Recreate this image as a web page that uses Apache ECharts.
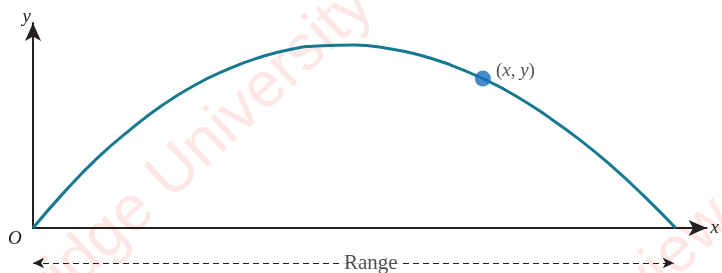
<!DOCTYPE html>
<html>
<head>
<meta charset="utf-8">
<script src="https://cdn.jsdelivr.net/npm/echarts@6/dist/echarts.min.js"></script>
<style>
  html, body { margin: 0; padding: 0; background: #fff; }
  #chart { width: 722px; height: 273px; }
</style>
</head>
<body>
<div id="chart"></div>
<script>
// trajectory (x = horizontal distance, y = height)
const pathX = [0, 0.5, 1, 1.5, 2, 2.5, 3, 3.5, 4, 4.5, 5, 5.5, 6, 6.5, 7, 7.5, 8, 8.5, 9, 9.5, 10]
const pathY = [0, 0.57, 1.08, 1.51, 1.89, 2.20, 2.44, 2.63, 2.76, 2.82, 2.83, 2.78, 2.68, 2.52, 2.31, 2.05, 1.73, 1.37, 0.96, 0.50, 0]
const markedPoint = [7, 2.31]
const rangeEnds = [0, 9.92]
const rangeLabelAt = 5.23

const ink = '#231f20'
const serif = 'Liberation Serif'

const chart = echarts.init(document.getElementById('chart'), null, { renderer: 'canvas' })

const axisArrow = {
  show: true,
  onZero: false,
  symbol: ['none', 'arrow'],
  symbolSize: [12, 18],
  symbolOffset: [0, 0],
  lineStyle: { color: ink, width: 2 }
}

chart.setOption({
  animation: false,
  backgroundColor: '#fff',
  grid: [
    { left: 33, right: 12, top: 23, bottom: 45 },
    { left: 33, right: 12, top: 253, height: 20 }
  ],
  xAxis: [
    {
      type: 'value',
      gridIndex: 0,
      min: 0,
      max: 10.48,
      name: 'x',
      nameLocation: 'end',
      nameGap: 4,
      nameTextStyle: { fontFamily: serif, fontStyle: 'italic', fontSize: 19, color: ink, align: 'left', verticalAlign: 'middle' },
      axisLine: axisArrow,
      axisTick: { show: false },
      axisLabel: { show: false },
      splitLine: { show: false }
    },
    { type: 'value', gridIndex: 1, min: 0, max: 10.48, show: false }
  ],
  yAxis: [
    {
      type: 'value',
      gridIndex: 0,
      min: 0,
      max: 3.17,
      name: 'y',
      nameLocation: 'end',
      nameGap: 6,
      nameTextStyle: { fontFamily: serif, fontStyle: 'italic', fontSize: 19, color: ink, align: 'right', verticalAlign: 'middle', padding: [0, 2, 0, 0] },
      axisLine: axisArrow,
      axisTick: { show: false },
      axisLabel: { show: false },
      splitLine: { show: false }
    },
    { type: 'value', gridIndex: 1, min: -1, max: 1, show: false }
  ],
  graphic: [
    {
      type: 'text', x: -62, y: 437, rotation: 0.75, z: 0, silent: true,
      style: { text: 'Cambridge University Press', font: '64px "Liberation Sans"', fill: '#fde6e6', verticalAlign: 'bottom' }
    },
    {
      type: 'text', x: 592, y: 376, rotation: 0.75, z: 0, silent: true,
      style: { text: 'Review Copy', font: '64px "Liberation Sans"', fill: '#fde6e6', verticalAlign: 'bottom' }
    },
    {
      type: 'text', left: 8, top: 229, z: 10,
      style: { text: 'O', font: 'italic 19px "Liberation Serif"', fill: ink }
    }
  ],
  series: [
    {
      type: 'line',
      xAxisIndex: 0,
      yAxisIndex: 0,
      smooth: true,
      showSymbol: false,
      silent: true,
      z: 3,
      lineStyle: { color: '#16798f', width: 3 },
      data: pathX.map((x, i) => [x, pathY[i]])
    },
    {
      type: 'scatter',
      xAxisIndex: 0,
      yAxisIndex: 0,
      symbolSize: 16,
      silent: true,
      z: 4,
      itemStyle: { color: '#1a6ebf' },
      label: {
        show: true,
        position: 'right',
        distance: 5,
        offset: [0, -8],
        formatter: '({i|x}, {i|y})',
        fontFamily: serif,
        fontSize: 19,
        color: ink,
        rich: {
          i: { fontFamily: serif, fontSize: 19, fontStyle: 'italic', color: ink }
        }
      },
      data: [markedPoint]
    },
    {
      type: 'scatter',
      xAxisIndex: 1,
      yAxisIndex: 1,
      symbolSize: 0,
      silent: true,
      z: 5,
      label: {
        show: true,
        position: 'inside',
        formatter: 'Range',
        fontFamily: serif,
        fontSize: 21,
        color: ink,
        backgroundColor: '#fff',
        padding: [0, 4]
      },
      data: [[rangeLabelAt, 0]],
      markLine: {
        silent: true,
        z: 1,
        symbol: ['arrow', 'arrow'],
        symbolSize: [8, 11],
        label: { show: false },
        lineStyle: { color: ink, width: 1.2, type: [6, 4] },
        emphasis: { disabled: true },
        data: [[{ coord: [rangeEnds[0], 0] }, { coord: [rangeEnds[1], 0] }]]
      }
    }
  ]
})
</script>
</body>
</html>
